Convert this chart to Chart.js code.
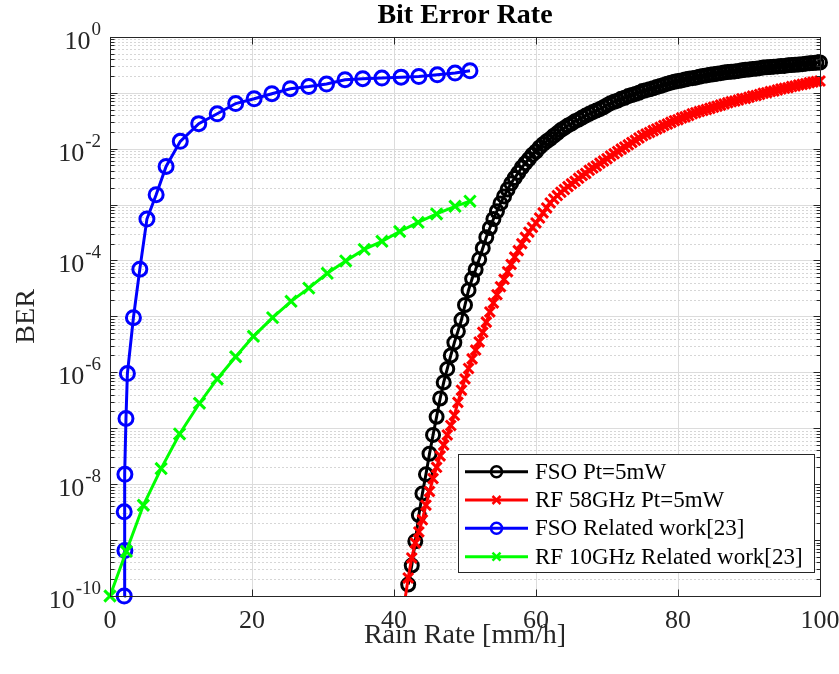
<!DOCTYPE html>
<html>
<head>
<meta charset="utf-8">
<script src="https://cdn.jsdelivr.net/npm/chart.js@4.4.0/dist/chart.umd.min.js"></script>
<style>
  html, body { margin: 0; padding: 0; background: #fff; }
  #wrap { width: 839px; height: 674px; position: relative; }
</style>
</head>
<body>
<div id="wrap"><canvas id="chart"></canvas></div>
<script>
// rain rate grid of the two dense curves (mm/h)
const rainFine = [
  41.5, 42, 42.5, 43, 43.5, 44, 44.5, 45, 45.5, 46,
  46.5, 47, 47.5, 48, 48.5, 49, 49.5, 50, 50.5, 51,
  51.5, 52, 52.5, 53, 53.5, 54, 54.5, 55, 55.5, 56,
  56.5, 57, 57.5, 58, 58.5, 59, 59.5, 60, 60.5, 61,
  61.5, 62, 62.5, 63, 63.5, 64, 64.5, 65, 65.5, 66,
  66.5, 67, 67.5, 68, 68.5, 69, 69.5, 70, 70.5, 71,
  71.5, 72, 72.5, 73, 73.5, 74, 74.5, 75, 75.5, 76,
  76.5, 77, 77.5, 78, 78.5, 79, 79.5, 80, 80.5, 81,
  81.5, 82, 82.5, 83, 83.5, 84, 84.5, 85, 85.5, 86,
  86.5, 87, 87.5, 88, 88.5, 89, 89.5, 90, 90.5, 91,
  91.5, 92, 92.5, 93, 93.5, 94, 94.5, 95, 95.5, 96,
  96.5, 97, 97.5, 98, 98.5, 99, 99.5, 100
];

// FSO Pt=5mW (black)
const berFso = [
  null,
  1.6e-10, 3.5e-10, 9.5e-10, 2.8e-9, 6.8e-9, 1.5e-8, 3.5e-8, 7.6e-8, 1.6e-7, 3.4e-7,
  6.6e-7, 1.15e-6, 2.0e-6, 3.4e-6, 5.4e-6, 8.7e-6, 1.6e-5, 2.95e-5, 4.7e-5, 6.9e-5,
  1.05e-4, 1.66e-4, 2.6e-4, 3.8e-4, 5.5e-4, 7.6e-4, 1.05e-3, 1.4e-3, 1.86e-3, 2.4e-3,
  3.0e-3, 3.7e-3, 4.6e-3, 5.5e-3, 6.5e-3, 7.8e-3, 8.9e-3, 1.05e-2, 1.2e-2, 1.35e-2,
  1.5e-2, 1.7e-2, 1.9e-2, 2.15e-2, 2.35e-2, 2.6e-2, 2.8e-2, 3.1e-2, 3.3e-2, 3.6e-2,
  3.9e-2, 4.2e-2, 4.5e-2, 4.8e-2, 5.1e-2, 5.5e-2, 6.0e-2, 6.5e-2, 6.9e-2, 7.2e-2,
  7.8e-2, 8.1e-2, 8.7e-2, 9.1e-2, 9.5e-2, 0.100, 0.107, 0.111, 0.115, 0.120,
  0.126, 0.132, 0.138, 0.145, 0.151, 0.157, 0.162, 0.166, 0.172, 0.178,
  0.182, 0.186, 0.193, 0.200, 0.204, 0.209, 0.214, 0.219, 0.224, 0.229,
  0.234, 0.237, 0.240, 0.245, 0.251, 0.257, 0.260, 0.266, 0.269, 0.275,
  0.282, 0.285, 0.288, 0.292, 0.295, 0.299, 0.302, 0.309, 0.313, 0.316,
  0.320, 0.324, 0.331, 0.335, 0.339, 0.343, 0.347
];

// RF 58GHz Pt=5mW (red)
const berRf58 = [
  7.9e-11, 2.1e-10, 4.8e-10, 8.9e-10, 1.4e-9, 2.3e-9, 4.2e-9, 7.4e-9, 1.26e-8, 2.0e-8,
  3.2e-8, 5.0e-8, 7.6e-8, 1.12e-7, 1.7e-7, 2.9e-7, 4.8e-7, 7.6e-7, 1.17e-6, 1.74e-6,
  2.5e-6, 3.5e-6, 5.2e-6, 7.9e-6, 1.2e-5, 1.74e-5, 2.45e-5, 3.4e-5, 4.6e-5, 6.3e-5,
  8.5e-5, 1.15e-4, 1.5e-4, 2.0e-4, 2.6e-4, 3.2e-4, 3.9e-4, 4.7e-4, 5.75e-4, 7.1e-4,
  8.7e-4, 1.07e-3, 1.26e-3, 1.45e-3, 1.66e-3, 1.86e-3, 2.1e-3, 2.35e-3, 2.6e-3, 2.95e-3,
  3.3e-3, 3.6e-3, 4.1e-3, 4.5e-3, 4.9e-3, 5.5e-3, 6.0e-3, 6.6e-3, 7.4e-3, 8.1e-3,
  8.9e-3, 9.8e-3, 1.07e-2, 1.17e-2, 1.29e-2, 1.41e-2, 1.55e-2, 1.7e-2, 1.82e-2, 1.95e-2,
  2.1e-2, 2.25e-2, 2.4e-2, 2.6e-2, 2.75e-2, 2.95e-2, 3.16e-2, 3.3e-2, 3.55e-2, 3.7e-2,
  3.9e-2, 4.2e-2, 4.4e-2, 4.6e-2, 4.8e-2, 5.0e-2, 5.25e-2, 5.5e-2, 5.75e-2, 6.0e-2,
  6.3e-2, 6.6e-2, 6.9e-2, 7.1e-2, 7.4e-2, 7.8e-2, 7.9e-2, 8.3e-2, 8.7e-2, 8.9e-2,
  9.3e-2, 9.8e-2, 0.100, 0.105, 0.107, 0.112, 0.117, 0.120, 0.123, 0.129,
  0.132, 0.138, 0.141, 0.145, 0.151, 0.155, 0.158, 0.162
];

// FSO Related work[23] (blue)
const rainFsoRel = [2.0, 2.1, 2.0, 2.1, 2.25, 2.45, 3.3, 4.2, 5.2, 6.5, 7.9, 9.9, 12.5, 15.1,
  17.7, 20.3, 22.8, 25.4, 28.0, 30.5, 33.1, 35.6, 38.3, 41.0, 43.5, 46.1, 48.6, 50.7];
const berFsoRel = [1.0e-10, 6.5e-10, 3.2e-9, 1.5e-8, 1.5e-7, 9.5e-7, 9.5e-6, 7.0e-5, 5.5e-4, 1.5e-3,
  4.8e-3, 1.35e-2, 2.8e-2, 4.2e-2, 6.4e-2, 7.8e-2, 9.6e-2, 0.118, 0.129, 0.143,
  0.171, 0.178, 0.183, 0.190, 0.195, 0.209, 0.225, 0.247];

// RF 10GHz Related work[23] (green)
const rainRfRel = [0, 2.3, 4.7, 7.2, 9.8, 12.6, 15.1, 17.7, 20.2, 22.9, 25.5,
  28.0, 30.6, 33.2, 35.8, 38.3, 40.8, 43.4, 46.0, 48.6, 50.7];
const berRfRel = [1.0e-10, 6.3e-10, 4.2e-9, 1.9e-8, 7.9e-8, 2.8e-7, 7.6e-7, 1.9e-6, 4.4e-6, 9.5e-6, 1.86e-5,
  3.2e-5, 5.9e-5, 9.8e-5, 1.58e-4, 2.2e-4, 3.3e-4, 4.8e-4, 6.8e-4, 9.3e-4, 1.15e-3];

const seriesNames = ['FSO Pt=5mW', 'RF 58GHz Pt=5mW', 'FSO Related work[23]', 'RF 10GHz Related work[23]'];
const xTickStep = 20;
const yTickExps = [0, -2, -4, -6, -8, -10];

function pairs(xs, ys) {
  return xs.map((x, i) => ({ x: x, y: ys[i] }));
}

const serif = "'Liberation Serif', 'Times New Roman', serif";
const axisColor = '#262626';
Chart.defaults.font.family = serif;

function line(ctx, x1, y1, x2, y2) {
  ctx.beginPath();
  ctx.moveTo(x1, y1);
  ctx.lineTo(x2, y2);
  ctx.stroke();
}

const matlabAxes = {
  id: 'matlabAxes',
  beforeDatasetsDraw(chart) {
    const { ctx, chartArea: a, scales } = chart;
    const y = scales.y;
    ctx.save();
    ctx.lineWidth = 1;
    // minor log grid, dotted
    ctx.strokeStyle = '#d6d6d6';
    ctx.setLineDash([2, 2]);
    for (let e = -10; e < 0; e++) {
      for (let m = 2; m <= 9; m++) {
        const py = Math.round(y.getPixelForValue(m * Math.pow(10, e))) + 0.5;
        line(ctx, a.left, py, a.right, py);
      }
    }
    // major decade grid
    ctx.setLineDash([]);
    ctx.strokeStyle = '#dcdcdc';
    for (let e = -9; e < 0; e++) {
      const py = Math.round(y.getPixelForValue(Math.pow(10, e))) + 0.5;
      line(ctx, a.left, py, a.right, py);
    }
    ctx.restore();
  },
  afterDatasetsDraw(chart) {
    const { ctx, chartArea: a, scales } = chart;
    const x = scales.x, y = scales.y;
    ctx.save();
    ctx.strokeStyle = axisColor;
    ctx.lineWidth = 1;
    const L = Math.round(a.left) + 0.5, R = Math.round(a.right) + 0.5;
    const T = Math.round(a.top) + 0.5, B = Math.round(a.bottom) + 0.5;
    ctx.strokeRect(L, T, R - L, B - T);
    // x ticks, inside, bottom and top
    for (let v = 0; v <= 100; v += xTickStep) {
      const px = Math.round(x.getPixelForValue(v)) + 0.5;
      line(ctx, px, B, px, B - 7);
      line(ctx, px, T, px, T + 7);
    }
    // y ticks, inside, left and right
    for (let e = -10; e <= 0; e++) {
      const py = Math.round(y.getPixelForValue(Math.pow(10, e))) + 0.5;
      line(ctx, L, py, L + 7, py);
      line(ctx, R, py, R - 7, py);
      if (e === 0) continue;
      for (let m = 2; m <= 9; m++) {
        const pm = Math.round(y.getPixelForValue(m * Math.pow(10, e))) + 0.5;
        line(ctx, L, pm, L + 4, pm);
        line(ctx, R, pm, R - 4, pm);
      }
    }
    // y tick labels 10^k
    ctx.fillStyle = axisColor;
    ctx.textBaseline = 'alphabetic';
    yTickExps.forEach(e => {
      const py = y.getPixelForValue(Math.pow(10, e));
      const exp = String(e);
      ctx.font = '19px ' + serif;
      const ew = ctx.measureText(exp).width;
      ctx.fillText(exp, 101 - ew, py - 2);
      ctx.font = '26px ' + serif;
      const bw = ctx.measureText('10').width;
      ctx.fillText('10', 101 - ew - 1 - bw, py + 12);
    });
    ctx.restore();
  },
  afterDraw(chart) {
    const { ctx } = chart;
    const box = { l: 458, t: 454, r: 814, b: 572 };
    const rows = [471.7, 500, 528.3, 556.7];
    ctx.save();
    ctx.fillStyle = '#ffffff';
    ctx.fillRect(box.l, box.t, box.r - box.l, box.b - box.t);
    ctx.strokeStyle = axisColor;
    ctx.lineWidth = 1;
    ctx.strokeRect(box.l + 0.5, box.t + 0.5, box.r - box.l, box.b - box.t);
    chart.data.datasets.forEach((ds, i) => {
      const cy = rows[i];
      ctx.strokeStyle = ds.borderColor;
      ctx.lineWidth = 3;
      line(ctx, 465, cy, 528, cy);
      ctx.lineWidth = 2.5;
      if (ds.pointStyle === 'circle') {
        ctx.beginPath();
        ctx.arc(496.5, cy, 5.5, 0, Math.PI * 2);
        ctx.stroke();
      } else {
        const r = 4;
        line(ctx, 496.5 - r, cy - r, 496.5 + r, cy + r);
        line(ctx, 496.5 - r, cy + r, 496.5 + r, cy - r);
      }
      ctx.fillStyle = '#000000';
      ctx.font = '23px ' + serif;
      ctx.textBaseline = 'middle';
      ctx.fillText(ds.label, 535, cy + 1);
    });
    ctx.restore();
  }
};

const ctx = document.getElementById('chart').getContext('2d');
const chart = new Chart(ctx, {
  type: 'line',
  data: {
    datasets: [
      {
        label: seriesNames[0],
        data: pairs(rainFine, berFso),
        borderColor: '#000000',
        backgroundColor: '#000000',
        borderWidth: 3,
        pointStyle: 'circle',
        pointRadius: 6.5,
        pointBorderWidth: 3,
        pointBorderColor: '#000000',
        pointBackgroundColor: 'rgba(0,0,0,0)',
        clip: false,
        order: 4
      },
      {
        label: seriesNames[1],
        data: pairs(rainFine, berRf58),
        borderColor: '#ff0000',
        backgroundColor: '#ff0000',
        borderWidth: 3,
        pointStyle: 'crossRot',
        pointRadius: 7,
        pointBorderWidth: 3,
        pointBorderColor: '#ff0000',
        clip: { left: 20, top: 20, right: 20, bottom: 0 },
        order: 3
      },
      {
        label: seriesNames[2],
        data: pairs(rainFsoRel, berFsoRel),
        borderColor: '#0000ff',
        backgroundColor: '#0000ff',
        borderWidth: 3,
        pointStyle: 'circle',
        pointRadius: 7,
        pointBorderWidth: 3,
        pointBorderColor: '#0000ff',
        pointBackgroundColor: 'rgba(0,0,0,0)',
        clip: false,
        order: 2
      },
      {
        label: seriesNames[3],
        data: pairs(rainRfRel, berRfRel),
        borderColor: '#00ff00',
        backgroundColor: '#00ff00',
        borderWidth: 3,
        pointStyle: 'crossRot',
        pointRadius: 8,
        pointBorderWidth: 3,
        pointBorderColor: '#00ff00',
        clip: false,
        order: 1
      }
    ]
  },
  options: {
    responsive: true,
    maintainAspectRatio: false,
    animation: false,
    events: [],
    layout: { padding: { left: 0, right: 19, top: 0, bottom: 0 } },
    elements: { line: { tension: 0 } },
    plugins: {
      legend: { display: false },
      tooltip: { enabled: false },
      title: {
        display: true,
        text: 'Bit Error Rate',
        color: '#000000',
        fullSize: false,
        font: { size: 28, weight: 'bold', lineHeight: 1.1 },
        padding: { top: 0, bottom: 6 }
      }
    },
    scales: {
      x: {
        type: 'linear',
        min: 0,
        max: 100,
        ticks: { stepSize: xTickStep, color: axisColor, font: { size: 26 }, padding: 10, maxRotation: 0 },
        grid: { color: '#dcdcdc', drawTicks: false },
        border: { display: false },
        title: {
          display: true,
          text: 'Rain Rate [mm/h]',
          color: axisColor,
          font: { size: 28 },
          padding: { top: 0, bottom: 22 }
        },
        afterFit(scale) {
          scale.height = 78;
          scale.paddingLeft = 0;
          scale.paddingRight = 0;
        }
      },
      y: {
        type: 'logarithmic',
        min: 1e-10,
        max: 1,
        ticks: { display: false },
        grid: { display: false },
        border: { display: false },
        title: {
          display: true,
          text: 'BER',
          color: axisColor,
          font: { size: 28 },
          padding: { top: 10, bottom: 0 }
        },
        afterFit(scale) {
          scale.width = 110;
          scale.paddingTop = 0;
          scale.paddingBottom = 0;
        }
      }
    }
  },
  plugins: [matlabAxes]
});
</script>
</body>
</html>
